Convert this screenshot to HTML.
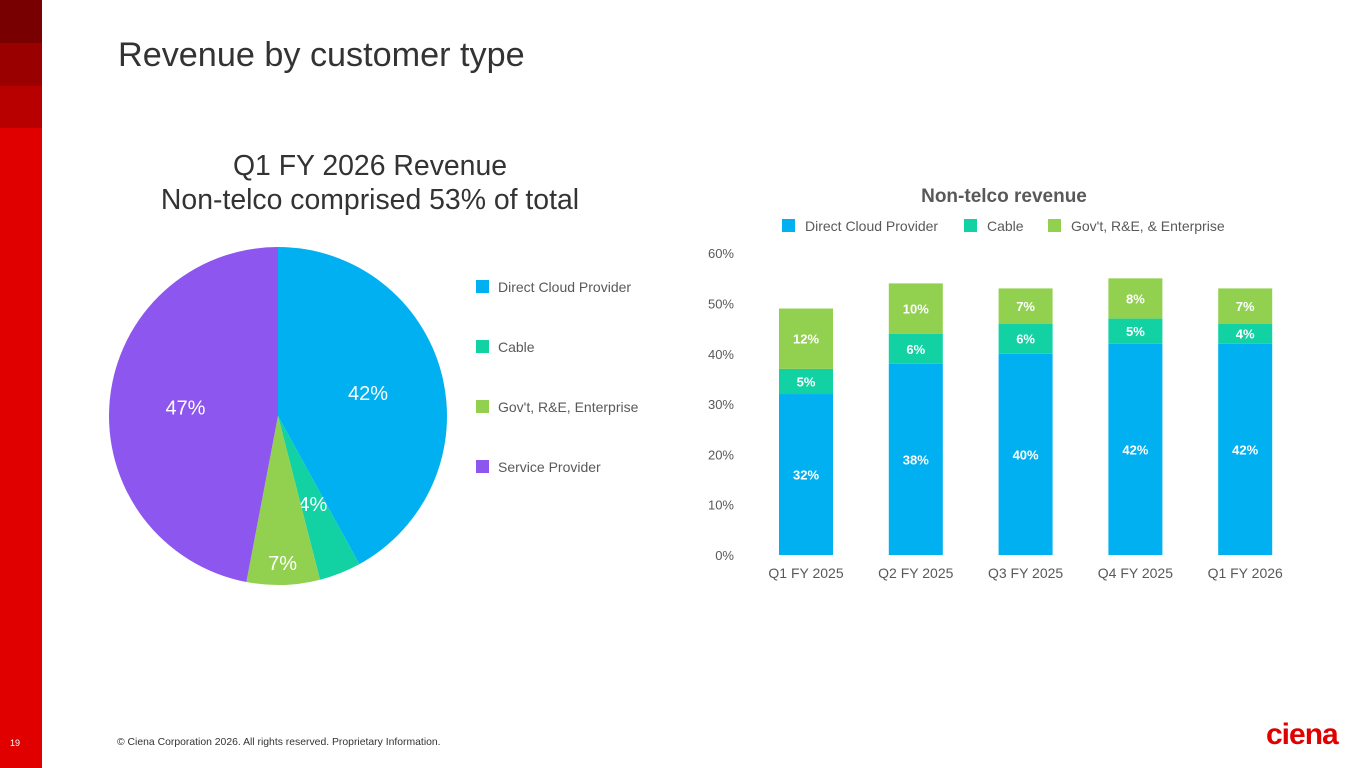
<!DOCTYPE html>
<html><head><meta charset="utf-8"><style>
body{margin:0;width:1365px;height:768px;overflow:hidden;background:#fff;font-family:"Liberation Sans",Arial,sans-serif;position:relative}
.abs{position:absolute}
</style></head><body>
<div class="abs" style="left:0;top:0;width:42px;height:768px;background:#e00000"></div>
<div class="abs" style="left:0;top:0;width:42px;height:43px;background:#780000"></div>
<div class="abs" style="left:0;top:43px;width:42px;height:43px;background:#9a0000"></div>
<div class="abs" style="left:0;top:86px;width:42px;height:42px;background:#b80000"></div>
<div class="abs" style="left:118px;top:36px;font-size:34.2px;color:#333">Revenue by customer type</div>
<div class="abs" style="left:10px;top:738px;font-size:9px;color:#fff">19</div>
<div class="abs" style="left:117px;top:737px;font-size:10.4px;color:#333">© Ciena Corporation 2026. All rights reserved. Proprietary Information.</div>
<div class="abs" style="left:1266px;top:718px;font-size:30px;font-weight:bold;color:#e00000;letter-spacing:-1px">ciena</div>
<div class="abs" style="left:110px;top:149px;width:520px;text-align:center;font-size:28.4px;line-height:34px;color:#333">Q1 FY 2026 Revenue<br>Non-telco comprised 53% of total</div>
<svg class="abs" style="left:0;top:0" width="1365" height="768" id="svg"></svg>
<script>
const pieLabels=["Direct Cloud Provider","Cable","Gov't, R&E, Enterprise","Service Provider"];
const pieValues=[42,4,7,47];
const colors=["#00b0f0","#12d1a3","#92d14f","#8c56ef"];
const barCats=["Q1 FY 2025","Q2 FY 2025","Q3 FY 2025","Q4 FY 2025","Q1 FY 2026"];
const dcp=[32,38,40,42,42];
const cable=[5,6,6,5,4];
const gov=[12,10,7,8,7];
const yTicks=[0,10,20,30,40,50,60];
const barSeriesNames=["Direct Cloud Provider","Cable","Gov't, R&E, & Enterprise"];
const NS="http://www.w3.org/2000/svg";
const svg=document.getElementById('svg');
function mk(t,a,txt){const e=document.createElementNS(NS,t);for(const k in a)e.setAttribute(k,a[k]);if(txt!==undefined)e.textContent=txt;svg.appendChild(e);return e;}
const cx=278,cy=416,r=169;let tot=pieValues.reduce((a,b)=>a+b,0),acc=0;
const lblR=[0.55,0.56,0.87,0.55];
pieValues.forEach((v,i)=>{const a0=acc/tot*2*Math.PI;acc+=v;const a1=acc/tot*2*Math.PI;
const x0=cx+r*Math.sin(a0),y0=cy-r*Math.cos(a0),x1=cx+r*Math.sin(a1),y1=cy-r*Math.cos(a1);
const p=mk('path',{d:`M${cx},${cy}L${x0},${y0}A${r},${r} 0 ${a1-a0>Math.PI?1:0} 1 ${x1},${y1}Z`,fill:colors[i]});


const am=(a0+a1)/2,lr=r*lblR[i];
const t=mk('text',{x:cx+lr*Math.sin(am),y:cy-lr*Math.cos(am)+7,'font-size':20,fill:'#fff','text-anchor':'middle'},v+'%');


const ly=280+i*60;
const sq=mk('rect',{x:476,y:ly,width:13,height:13,fill:colors[i]});


const lt=mk('text',{x:498,y:ly+12,'font-size':14,fill:'#595959'},pieLabels[i]);


});
const y0=555,px=5.03;const Y=v=>y0-v*px;const X=i=>806+i*109.8;const bw=54;
const ct=mk('text',{x:1004,y:202,'font-size':19,'font-weight':'bold',fill:'#595959','text-anchor':'middle'},'Non-telco revenue');


const legX=[782,964,1048];
barSeriesNames.forEach((n,i)=>{const s=mk('rect',{x:legX[i],y:219,width:13,height:13,fill:colors[i]});


const t=mk('text',{x:legX[i]+23,y:231,'font-size':14,fill:'#595959'},n);

});
yTicks.forEach(v=>{const t=mk('text',{x:734,y:Y(v)+5,'font-size':13,fill:'#595959','text-anchor':'end'},v+'%');

});
barCats.forEach((c,i)=>{const t=mk('text',{x:X(i),y:578,'font-size':14,fill:'#595959','text-anchor':'middle'},c);


let base=0;[dcp,cable,gov].forEach((s,k)=>{const v=s[i];
const b=mk('rect',{x:X(i)-bw/2,y:Y(base+v),width:bw,height:v*px,fill:colors[k]});


const ly=Y(base+v/2)+5;
const l=mk('text',{x:X(i),y:ly,'font-size':13,'font-weight':'bold',fill:'#fff','text-anchor':'middle'},v+'%');


base+=v;});});
</script>
</body></html>
